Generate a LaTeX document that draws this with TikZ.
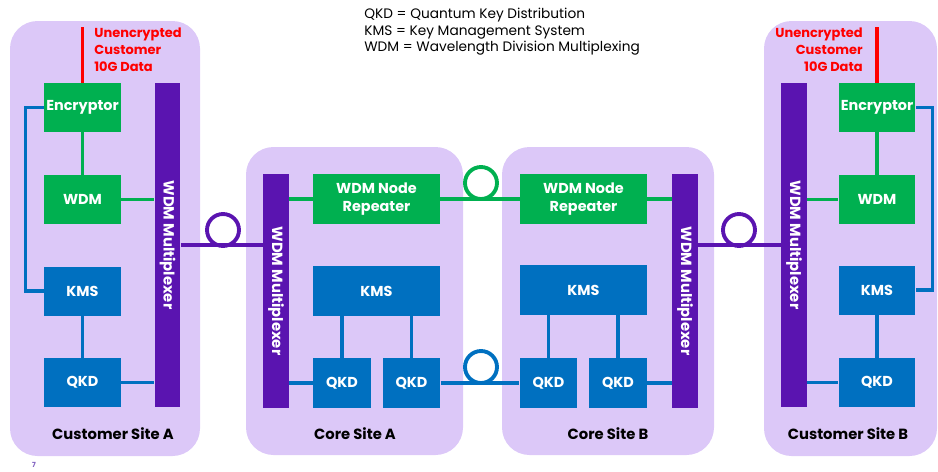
\documentclass[tikz,border=0pt]{standalone}
\usepackage{fontspec}
\setmainfont{Poppins}
\usetikzlibrary{calc,positioning}
\definecolor{sitebg}{HTML}{DCC8F8}
\definecolor{wdmgreen}{HTML}{00B050}
\definecolor{kmsblue}{HTML}{0070C0}
\definecolor{muxpurple}{HTML}{5A14B0}
\definecolor{pagenum}{HTML}{8060C0}

\begin{document}
\begin{tikzpicture}[x=0.02cm, y=-0.02cm,
  site/.style={fill=sitebg, rounded corners=0.55cm},
  sitelabel/.style={font=\fontsize{8.4}{10}\selectfont\bfseries, text=black},
  box/.style={rectangle, inner sep=0pt, text=white, align=center,
    font=\fontsize{8.2}{9.8}\selectfont\bfseries},
  greenbox/.style={box, fill=wdmgreen, minimum width=1.54cm, minimum height=0.98cm},
  bluebox/.style={box, fill=kmsblue, minimum width=1.54cm, minimum height=0.98cm},
  repbox/.style={box, fill=wdmgreen, minimum width=2.54cm, minimum height=1.0cm},
  kmsbox/.style={box, fill=kmsblue, minimum width=2.54cm, minimum height=1.0cm},
  qkdbox/.style={box, fill=kmsblue, minimum width=1.16cm, minimum height=1.0cm},
  mux/.style={rectangle, inner sep=0pt, fill=muxpurple, minimum width=0.52cm},
  muxtext/.style={rotate=-90, text=white, font=\fontsize{8.4}{9}\selectfont\bfseries},
  gline/.style={draw=wdmgreen, line width=1.8pt},
  bline/.style={draw=kmsblue, line width=1.8pt},
  pline/.style={draw=muxpurple, line width=1.8pt},
  rline/.style={draw=red, line width=2.2pt},
  loopg/.style={draw=wdmgreen, line width=2.2pt},
  loopb/.style={draw=kmsblue, line width=2.2pt},
  loopp/.style={draw=muxpurple, line width=2.2pt},
  redtext/.style={text=red, font=\fontsize{7.4}{9.6}\selectfont\bfseries},
]
  \useasboundingbox (0,0) rectangle (938,471);

  % Sites
  \fill[site] (10,21) rectangle (200,456);
  \fill[site] (246,147) rectangle (463,455);
  \fill[site] (502,147) rectangle (714,455);
  \fill[site] (764,21) rectangle (937,456);
  \node[sitelabel] (labA) at (113,434) {Customer Site A};
  \node[sitelabel] (labCA) at (355,434) {Core Site A};
  \node[sitelabel] (labCB) at (608,434) {Core Site B};
  \node[sitelabel] (labB) at (848,434) {Customer Site B};

  % Legend
  \node[anchor=north west, align=left, inner sep=0pt,
        font=\fontsize{7.8}{9.4}\selectfont] (legend) at (364,8)
    {QKD = Quantum Key Distribution\\KMS = Key Management System\\WDM = Wavelength Division Multiplexing};

  % Customer site A
  \node[greenbox] (encA) at (82.5,107.5) {Encryptor};
  \node[greenbox] (wdmA) at (82.5,199.5) {WDM};
  \node[bluebox]  (kmsA) at (82.5,291) {KMS};
  \node[bluebox]  (qkdA) at (82.5,382.5) {QKD};
  \node[mux, minimum height=6.48cm] (muxA) at (167.5,245) {};
  \node[muxtext] at (muxA) {WDM Multiplexer};
  \coordinate (inA) at (82.5,27);
  \node[redtext, anchor=north west, align=left, inner sep=0pt] (dataA) at (94,28)
    {Unencrypted\\Customer\\10G Data};

  % Core site A
  \node[mux, minimum height=4.68cm] (cmuxA) at (276,291) {};
  \node[muxtext] at (cmuxA) {WDM Multiplexer};
  \node[repbox] (repA) at (376.5,199) {WDM Node\\Repeater};
  \node[kmsbox] (ckmsA) at (376.5,291) {KMS};
  \node[qkdbox] (cqkdA1) at (342,383) {QKD};
  \node[qkdbox] (cqkdA2) at (411.5,383) {QKD};

  % Core site B
  \node[repbox] (repB) at (583.5,199) {WDM Node\\Repeater};
  \node[kmsbox] (ckmsB) at (583.5,290) {KMS};
  \node[qkdbox] (cqkdB1) at (548.5,383) {QKD};
  \node[qkdbox] (cqkdB2) at (618,383) {QKD};
  \node[mux, minimum height=4.68cm] (cmuxB) at (685,291) {};
  \node[muxtext] at (cmuxB) {WDM Multiplexer};

  % Customer site B
  \node[mux, minimum height=6.48cm] (muxB) at (794,245) {};
  \node[muxtext] at (muxB) {WDM Multiplexer};
  \node[greenbox] (encB) at (877,107.5) {Encryptor};
  \node[greenbox] (wdmB) at (877,199.5) {WDM};
  \node[bluebox]  (kmsB) at (877,290) {KMS};
  \node[bluebox]  (qkdB) at (877,382.5) {QKD};
  \coordinate (inB) at (877,27);
  \node[redtext, anchor=north east, align=right, inner sep=0pt] (dataB) at (863,28)
    {Unencrypted\\Customer\\10G Data};

  % Links inside customer site A
  \draw[rline] (inA) -- (encA);
  \draw[gline] (encA) -- (wdmA);
  \draw[gline] (wdmA.east) -- (wdmA.east -| muxA.west);
  \draw[bline] (kmsA) -- (qkdA);
  \draw[bline] (qkdA.east) -- (qkdA.east -| muxA.west);
  \draw[bline] (encA.west) -- ++(-18,0) |- (kmsA.west);

  % Links inside core sites
  \draw[gline] (repA.west -| cmuxA.east) -- (repA.west);
  \draw[bline] (cqkdA1.west -| cmuxA.east) -- (cqkdA1.west);
  \draw[bline] (cqkdA1.north |- ckmsA.south) -- (cqkdA1.north);
  \draw[bline] (cqkdA2.north |- ckmsA.south) -- (cqkdA2.north);
  \draw[gline] (repB.east) -- (repB.east -| cmuxB.west);
  \draw[bline] (cqkdB2.east) -- (cqkdB2.east -| cmuxB.west);
  \draw[bline] (cqkdB1.north |- ckmsB.south) -- (cqkdB1.north);
  \draw[bline] (cqkdB2.north |- ckmsB.south) -- (cqkdB2.north);

  % Links inside customer site B
  \draw[rline] (inB) -- (encB);
  \draw[gline] (encB) -- (wdmB);
  \draw[gline] (wdmB.west -| muxB.east) -- (wdmB.west);
  \draw[bline] (kmsB) -- (qkdB);
  \draw[bline] (qkdB.west -| muxB.east) -- (qkdB.west);
  \draw[bline] (encB.east) -- ++(17,0) |- (kmsB.east);

  % Fibre spans with loops
  \draw[pline] (muxA.east) -- (muxA.east -| cmuxA.west);
  \draw[loopp] (223,230) circle [radius=0.32cm];
  \draw[gline] (repA) -- (repB);
  \draw[loopg] (481,183) circle [radius=0.32cm];
  \draw[bline] (cqkdA2) -- (cqkdB1);
  \draw[loopb] (481,367) circle [radius=0.32cm];
  \draw[pline] (muxB.west -| cmuxB.east) -- (muxB.west);
  \draw[loopp] (739,230) circle [radius=0.32cm];

  % Page number
  \node[text=pagenum, font=\fontsize{4}{5}\selectfont\bfseries] (page) at (34,465) {7};
\end{tikzpicture}
\end{document}
